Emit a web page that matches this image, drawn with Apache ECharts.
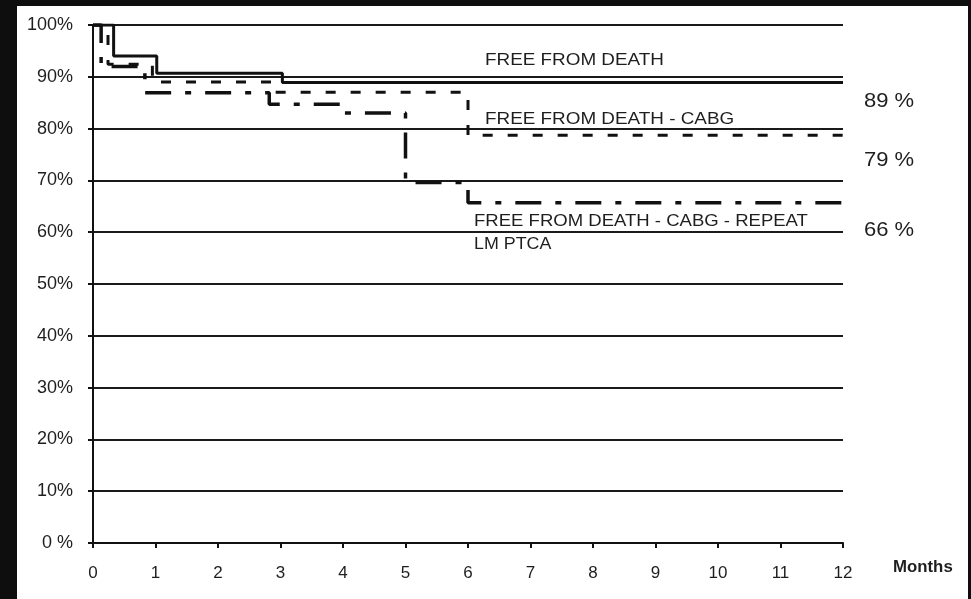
<!DOCTYPE html>
<html>
<head>
<meta charset="utf-8">
<script src="https://cdn.jsdelivr.net/npm/echarts@6/dist/echarts.min.js"></script>
<style>
	html, body { margin: 0; padding: 0; background: #0e0e0e; }
	#paper { position: absolute; left: 17px; top: 6px; width: 951px; height: 593px; background: #fff; }
	#main { position: absolute; left: 0; top: 0; width: 971px; height: 599px; }
</style>
</head>
<body>
<div id="paper"></div>
<div id="main"></div>
<script>
// months ticks on x axis, percent ticks on y axis
var monthTicks = [0, 1, 2, 3, 4, 5, 6, 7, 8, 9, 10, 11, 12];
var pctTicks = [0, 10, 20, 30, 40, 50, 60, 70, 80, 90, 100];

// step points [month, percent]
var freeDeath = [[0, 100], [0.33, 94], [1.02, 90.7], [3.03, 88.9], [12, 88.9]];
var freeDeathCabg = [[0, 100], [0.24, 92.4], [0.95, 89], [2.88, 87], [6.0, 78.7], [12, 78.7]];
var freeDeathCabgRepeat = [[0, 100], [0.13, 92], [0.83, 86.9], [2.82, 84.7], [4.0, 83], [5.0, 69.6], [6.0, 65.7], [12, 65.7]];

var endLabels = ["89 %", "79 %", "66 %"];

var txtColor = "#1e1e1e";
var lineColor = "#111";

var kmChart = {
	animation: false,
	backgroundColor: "transparent",
	grid: {
		left: 93,
		right: 128,
		top: 25,
		bottom: 56
	},
	xAxis: {
		type: "value",
		min: 0,
		max: 12,
		interval: 1,
		axisLine: {
			show: true,
			onZero: false,
			lineStyle: { color: lineColor, width: 2 }
		},
		axisTick: {
			show: true,
			inside: false,
			length: 5,
			lineStyle: { color: lineColor, width: 2 }
		},
		splitLine: { show: false },
		axisLabel: {
			margin: 22,
			color: txtColor,
			fontFamily: "Liberation Sans, Arial",
			fontSize: 17,
			formatter: function (v) {
				return monthTicks.indexOf(v) >= 0 ? String(v) : "";
			}
		}
	},
	yAxis: {
		type: "value",
		min: 0,
		max: 100,
		interval: 10,
		axisLine: {
			show: true,
			lineStyle: { color: lineColor, width: 2 }
		},
		axisTick: {
			show: true,
			length: 5,
			lineStyle: { color: lineColor, width: 2 }
		},
		splitLine: {
			show: true,
			lineStyle: { color: "#1a1a1a", width: 2 }
		},
		axisLabel: {
			margin: 20,
			color: txtColor,
			fontFamily: "Liberation Sans, Arial",
			fontSize: 18,
			formatter: function (v) {
				if (pctTicks.indexOf(v) < 0) return "";
				return v === 0 ? "0 %" : v + "%";
			}
		}
	},
	series: [{
		name: "FREE FROM DEATH",
		type: "line",
		step: "end",
		symbol: "none",
		data: freeDeath,
		lineStyle: { color: lineColor, width: 3, type: "solid" },
		z: 5
	}, {
		name: "FREE FROM DEATH - CABG",
		type: "line",
		step: "end",
		symbol: "none",
		data: freeDeathCabg,
		lineStyle: { color: lineColor, width: 3, type: [10, 15] },
		z: 4
	}, {
		name: "FREE FROM DEATH - CABG - REPEAT LM PTCA",
		type: "line",
		step: "end",
		symbol: "none",
		data: freeDeathCabgRepeat,
		lineStyle: { color: lineColor, width: 3.5, type: [26, 14, 6, 14] },
		z: 3
	}],
	graphic: []
};

/****** annotation texts ******/
function addText(x, y, str, size, bold, sx) {
	kmChart.graphic.push({
		type: "text",
		x: x,
		y: y,
		scaleX: sx || 1,
		silent: true,
		style: {
			text: str,
			fill: txtColor,
			font: (bold ? "bold " : "") + size + "px 'Liberation Sans', Arial",
			verticalAlign: "top"
		}
	});
}

addText(485, 52, "FREE FROM DEATH", 17, false, 1.11);
addText(485, 111, "FREE FROM DEATH - CABG", 17, false, 1.11);
addText(474, 213, "FREE FROM DEATH - CABG - REPEAT", 17, false, 1.09);
addText(474, 236, "LM PTCA", 17, false, 1.05);
addText(864, 91, endLabels[0], 20, false, 1.1);
addText(864, 150, endLabels[1], 20, false, 1.1);
addText(864, 220, endLabels[2], 20, false, 1.1);
addText(893, 560, "Months", 16, true, 1.05);

var myChart = echarts.init(document.getElementById("main"));
myChart.setOption(kmChart);
</script>
</body>
</html>
